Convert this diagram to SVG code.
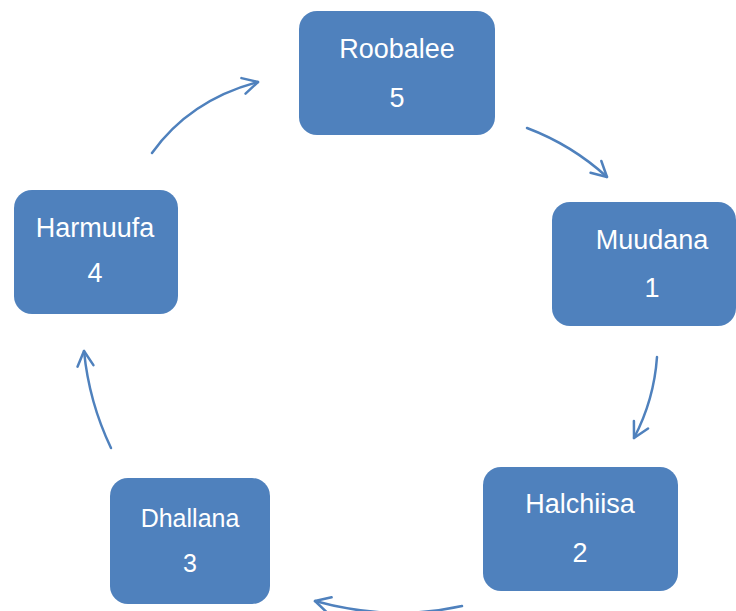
<svg xmlns="http://www.w3.org/2000/svg" width="736" height="611" viewBox="0 0 736 611">
<style>
.box{fill:#4F81BD;}
.lbl{fill:#ffffff;font-family:"Liberation Sans",Arial,sans-serif;font-size:27px;text-anchor:middle;}
.sm{font-size:25px;}
.con{fill:none;stroke:#4F81BD;stroke-width:2.5;stroke-linecap:round;marker-end:url(#ah);}
</style>
<defs>
<marker id="ah" markerUnits="userSpaceOnUse" markerWidth="30" markerHeight="30" viewBox="-20 -15 30 30" refX="0" refY="0" orient="auto">
<path d="M-15,-8 L0,0 L-15,8" fill="none" stroke="#4F81BD" stroke-width="2.5" stroke-linecap="round" stroke-linejoin="round"/>
</marker>
</defs>
<rect width="736" height="611" fill="#ffffff"/>
<g id="connectors">
<path class="con" d="M527,128 Q572,145 607,177"/>
<path class="con" d="M657,357 Q654,400 634,438"/>
<path class="con" d="M462,606 Q390,622 315,601"/>
<path class="con" d="M111,448 Q89,402 84,351"/>
<path class="con" d="M152,153 Q190,100 258,82"/>
</g>
<g id="roobalee">
<rect class="box" x="299" y="11" width="196" height="124" rx="18"/>
<text class="lbl" x="397" y="58">Roobalee</text>
<text class="lbl" x="397" y="107">5</text>
</g>
<g id="muudana">
<rect class="box" x="552" y="202" width="184" height="124" rx="18"/>
<text class="lbl" x="652" y="249">Muudana</text>
<text class="lbl" x="652" y="297">1</text>
</g>
<g id="halchiisa">
<rect class="box" x="483" y="467" width="195" height="124" rx="18"/>
<text class="lbl" x="580" y="513">Halchiisa</text>
<text class="lbl" x="580" y="562">2</text>
</g>
<g id="dhallana">
<rect class="box" x="110" y="478" width="160" height="126" rx="18"/>
<text class="lbl sm" x="190" y="527">Dhallana</text>
<text class="lbl sm" x="190" y="572">3</text>
</g>
<g id="harmuufa">
<rect class="box" x="14" y="190" width="164" height="124" rx="18"/>
<text class="lbl" x="95" y="237">Harmuufa</text>
<text class="lbl" x="95" y="282">4</text>
</g>
</svg>
